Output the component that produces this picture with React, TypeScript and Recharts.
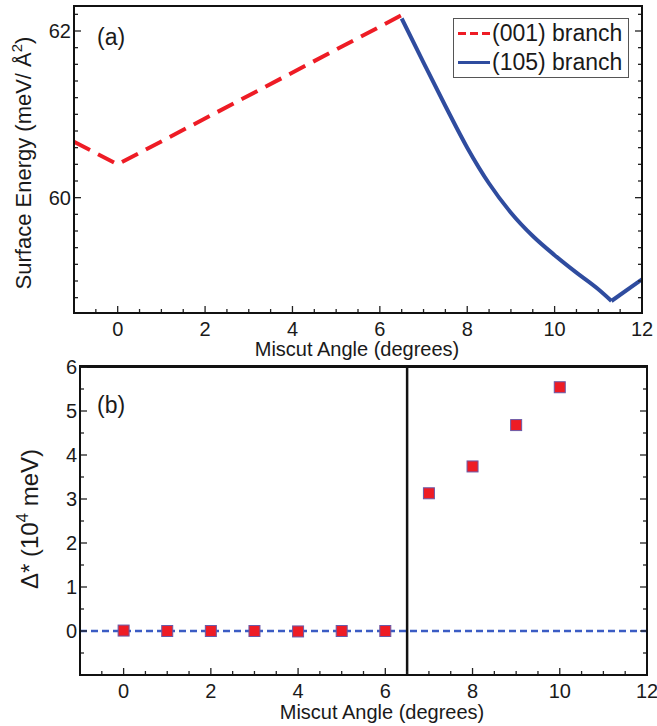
import React from 'react';
import { ComposedChart, Line, Scatter, XAxis, YAxis, ReferenceLine } from 'recharts';

const FONT = '"Liberation Sans", Arial, Helvetica, sans-serif';
const TEXT = '#1a1a1a';
const RED = '#ee1c25';
const BLUE = '#2f4c9f';
const BLUE_DASH = '#3b5cc4';

// ---------- Panel (a): surface energy vs miscut angle ----------
const angles001 = [-1, 0, 6.5];
const energy001 = [60.67, 60.4, 62.19];
const angles105 = [6.5, 7, 7.5, 8, 8.5, 9, 9.5, 10, 10.5, 11, 11.3];
const energy105 = [62.15, 61.62, 61.1, 60.6, 60.17, 59.82, 59.54, 59.31, 59.1, 58.9, 58.76];
const angles105Tail = [11.3, 12];
const energy105Tail = [58.76, 59.02];

const xTicksMinor = [-0.5, 0, 0.5, 1, 1.5, 2, 2.5, 3, 3.5, 4, 4.5, 5, 5.5, 6, 6.5, 7, 7.5, 8, 8.5, 9, 9.5, 10, 10.5, 11, 11.5, 12];
const xTickLabels = [0, 2, 4, 6, 8, 10, 12];
const yTicksA = [58.8, 59, 59.2, 59.4, 59.6, 59.8, 60, 60.2, 60.4, 60.6, 60.8, 61, 61.2, 61.4, 61.6, 61.8, 62, 62.2];
const yTickLabelsA = [60, 62];

// ---------- Panel (b): Delta* vs miscut angle ----------
const anglesB = [0, 1, 2, 3, 4, 5, 6, 7, 8, 9, 10];
const deltaB = [0.01, 0, 0, 0, -0.01, 0, 0, 3.13, 3.74, 4.68, 5.54];
const yTicksB = [-0.5, 0, 0.5, 1, 1.5, 2, 2.5, 3, 3.5, 4, 4.5, 5, 5.5, 6];
const yTickLabelsB = [0, 1, 2, 3, 4, 5, 6];
const transitionAngle = 6.5;

const data001 = angles001.map((a, i) => ({ angle: a, energy: energy001[i] }));
const data105 = angles105.map((a, i) => ({ angle: a, energy: energy105[i] }));
const data105Tail = angles105Tail.map((a, i) => ({ angle: a, energy: energy105Tail[i] }));
const dataB = anglesB.map((a, i) => ({ angle: a, delta: deltaB[i] }));

const isIn = (v: number, arr: number[]) => arr.some((m) => Math.abs(m - v) < 1e-6);

function AxisTick(props: any) {
  const { x, y, payload, side, majors, labels } = props;
  const v = payload.value;
  const major = isIn(v, majors);
  const len = major ? 7 : 4;
  const showLabel = labels && major;
  let d = '';
  let label = null;
  if (side === 'bottom') {
    d = `M${x},${y}V${y - len}`;
    if (showLabel)
      label = (
        <text x={x} y={y + 23} textAnchor="middle" fontSize={20} fill={TEXT} stroke="none" fontFamily={FONT}>
          {v}
        </text>
      );
  } else if (side === 'top') {
    d = `M${x},${y}V${y + len}`;
  } else if (side === 'left') {
    d = `M${x},${y}H${x + len}`;
    if (showLabel)
      label = (
        <text x={x - 3} y={y + 7} textAnchor="end" fontSize={20} fill={TEXT} stroke="none" fontFamily={FONT}>
          {v}
        </text>
      );
  } else {
    d = `M${x},${y}H${x - len}`;
  }
  return (
    <g>
      <path d={d} stroke="#222" strokeWidth={1.3} fill="none" />
      {label}
    </g>
  );
}

const SquareMarker = (props: any) => {
  const { cx, cy } = props;
  if (cx == null || cy == null) return null;
  const s = 11;
  return <rect x={cx - s / 2} y={cy - s / 2} width={s} height={s} fill={RED} stroke="#6a5aa8" strokeWidth={1} />;
};

const common = {
  type: 'number' as const,
  allowDataOverflow: true,
  interval: 0 as const,
  tickSize: 0,
  tickMargin: 0,
  tickLine: false,
  axisLine: true,
  stroke: '#111',
  strokeWidth: 2,
};

function PanelA() {
  return (
    <ComposedChart width={657} height={360} margin={{ top: 5, right: 14, bottom: 0, left: 0 }}>
      <XAxis {...common} xAxisId="b" dataKey="angle" domain={[-1, 12]} ticks={xTicksMinor} height={47}
        tick={<AxisTick side="bottom" majors={xTickLabels} labels />} />
      <XAxis {...common} xAxisId="t" orientation="top" height={1} domain={[-1, 12]} ticks={xTicksMinor}
        tick={<AxisTick side="top" majors={xTickLabels} />} />
      <YAxis {...common} yAxisId="l" domain={[58.616, 62.3]} ticks={yTicksA} width={74}
        tick={<AxisTick side="left" majors={yTickLabelsA} labels />} />
      <YAxis {...common} yAxisId="r" orientation="right" width={1} domain={[58.616, 62.3]} ticks={yTicksA}
        tick={<AxisTick side="right" majors={yTickLabelsA} />} />
      <Line xAxisId="b" yAxisId="l" data={data001} dataKey="energy" type="linear" stroke={RED} strokeWidth={4}
        strokeDasharray="18 9" dot={false} isAnimationActive={false} />
      <Line xAxisId="b" yAxisId="l" data={data105} dataKey="energy" type="monotone" stroke={BLUE} strokeWidth={4}
        dot={false} isAnimationActive={false} />
      <Line xAxisId="b" yAxisId="l" data={data105Tail} dataKey="energy" type="linear" stroke={BLUE} strokeWidth={4}
        dot={false} isAnimationActive={false} />
    </ComposedChart>
  );
}

function PanelB() {
  return (
    <ComposedChart width={657} height={386} margin={{ top: 26, right: 9, bottom: 0, left: 0 }}>
      <XAxis {...common} xAxisId="b" dataKey="angle" domain={[-1, 12]} ticks={xTicksMinor} height={51}
        tick={<AxisTick side="bottom" majors={xTickLabels} labels />} />
      <XAxis {...common} xAxisId="t" orientation="top" height={1} domain={[-1, 12]} ticks={xTicksMinor}
        tick={<AxisTick side="top" majors={xTickLabels} />} />
      <YAxis {...common} yAxisId="l" dataKey="delta" domain={[-1, 6]} ticks={yTicksB} width={80}
        tick={<AxisTick side="left" majors={yTickLabelsB} labels />} />
      <YAxis {...common} yAxisId="r" orientation="right" width={1} domain={[-1, 6]} ticks={yTicksB}
        tick={<AxisTick side="right" majors={yTickLabelsB} />} />
      <ReferenceLine xAxisId="b" yAxisId="l" y={0} stroke={BLUE_DASH} strokeWidth={2.5} strokeDasharray="7 4" />
      <ReferenceLine xAxisId="b" yAxisId="l" x={transitionAngle} stroke="#111" strokeWidth={2.5} />
      <Scatter xAxisId="b" yAxisId="l" data={dataB} dataKey="delta" shape={<SquareMarker />} isAnimationActive={false} />
    </ComposedChart>
  );
}

// HTML text placed by its baseline (line-height = 1em)
const Txt = ({ left, baseline, size, center, children }: any) => (
  <div
    style={{
      position: 'absolute',
      left,
      top: baseline - 0.8465 * size,
      fontSize: size,
      lineHeight: `${size}px`,
      fontFamily: FONT,
      color: TEXT,
      whiteSpace: 'nowrap',
      transform: center ? 'translateX(-50%)' : undefined,
    }}
  >
    {children}
  </div>
);

// Rotated (bottom-to-top) title, with its baseline at x = baselineX, centred at y = cy
const VTitle = ({ baselineX, cy, size, children }: any) => (
  <div
    style={{
      position: 'absolute',
      left: baselineX - 0.3465 * size,
      top: cy,
      fontSize: size,
      lineHeight: `${size}px`,
      fontFamily: FONT,
      color: TEXT,
      whiteSpace: 'nowrap',
      transform: 'translate(-50%, -50%) rotate(-90deg)',
    }}
  >
    {children}
  </div>
);

const Sup = ({ size, lift, children }: any) => (
  <span style={{ fontSize: size, position: 'relative', top: -lift, lineHeight: 0 }}>{children}</span>
);

// plot frame (box around each panel's plotting area)
const FrameBox = ({ left, top, right, bottom }: any) => (
  <div
    style={{
      position: 'absolute',
      left: left - 1,
      top: top - 1,
      width: right - left + 2,
      height: bottom - top + 2,
      boxSizing: 'border-box',
      border: '2px solid #111',
      pointerEvents: 'none',
    }}
  />
);

export default function App() {
  return (
    <div style={{ position: 'absolute', left: 0, top: 0, width: 657, height: 726, background: '#fff' }}>
      <div style={{ position: 'absolute', left: 0, top: 0, width: 657, height: 360, overflow: 'hidden', transform: 'scale(1)', transformOrigin: '0 0' }}>
        <PanelA />
      </div>
      <div style={{ position: 'absolute', left: 0, top: 340, width: 657, height: 386, overflow: 'hidden', transform: 'scale(1)', transformOrigin: '0 0' }}>
        <PanelB />
      </div>

      <FrameBox left={74} top={6} right={642} bottom={313} />
      <FrameBox left={80} top={366} right={647} bottom={675} />

      {/* panel labels */}
      <Txt left={97} baseline={45} size={23}>(a)</Txt>
      <Txt left={97} baseline={413} size={23}>(b)</Txt>

      {/* axis titles */}
      <Txt left={357} baseline={356} size={20} center>Miscut Angle (degrees)</Txt>
      <Txt left={382} baseline={719} size={20} center>Miscut Angle (degrees)</Txt>
      <VTitle baselineX={32} cy={163} size={22}>
        Surface Energy (meV/ Å<Sup size={15} lift={9}>2</Sup>)
      </VTitle>
      <VTitle baselineX={38} cy={519} size={24}>
        Δ* (10<Sup size={17} lift={10}>4</Sup> meV)
      </VTitle>

      {/* legend */}
      <div
        style={{
          position: 'absolute',
          left: 453,
          top: 18,
          width: 176,
          height: 60,
          boxSizing: 'border-box',
          border: '1px solid #555',
          background: '#fff',
        }}
      >
        <div
          style={{
            position: 'absolute',
            left: 4,
            top: 12.5,
            width: 33,
            height: 3,
            background: `repeating-linear-gradient(to right, ${RED} 0px, ${RED} 8px, transparent 8px, transparent 12px)`,
          }}
        />
        <div style={{ position: 'absolute', left: 4, top: 41.5, width: 32, height: 3, background: BLUE }} />
        <Txt left={38} baseline={22} size={23}>(001) branch</Txt>
        <Txt left={38} baseline={51} size={23}>(105) branch</Txt>
      </div>
    </div>
  );
}
